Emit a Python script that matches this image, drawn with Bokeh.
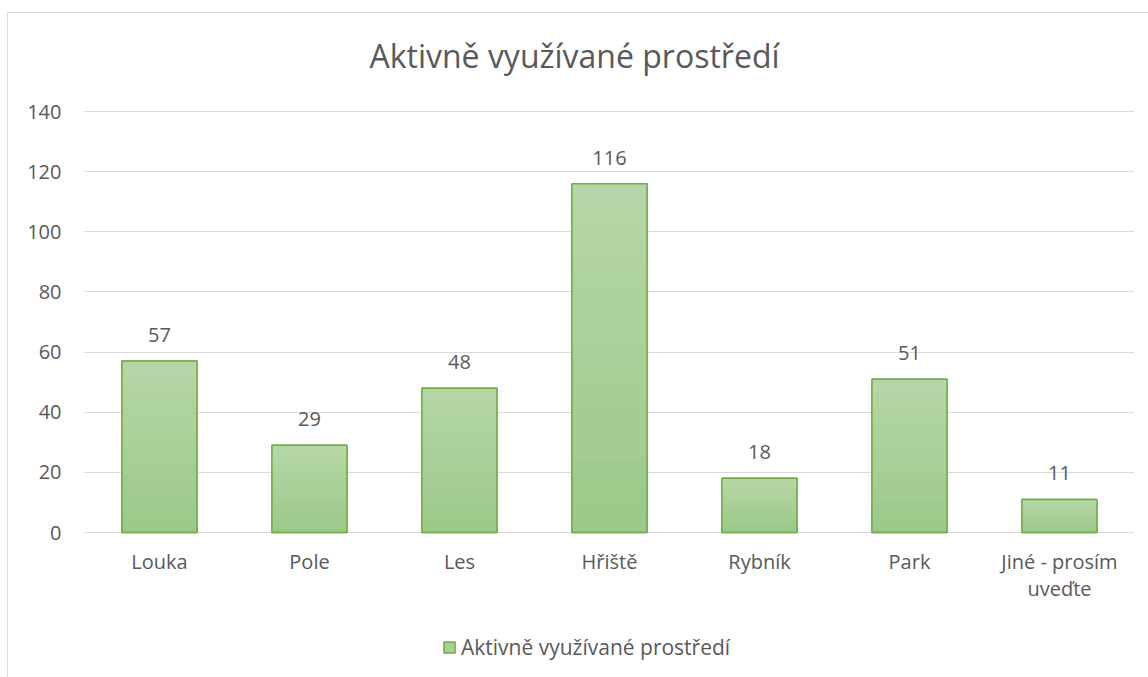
from bokeh.plotting import figure
from bokeh.models import (ColumnDataSource, FixedTicker, LabelSet, Label, Legend, LegendItem)
from bokeh.core.properties import value
from bokeh.embed import file_html
from bokeh.resources import INLINE

# ---- data ----
categories = ["Louka", "Pole", "Les", "Hřiště", "Rybník", "Park", "Jiné - prosím uveďte"]
category_labels = ["Louka", "Pole", "Les", "Hřiště", "Rybník", "Park", "Jiné - prosím\nuveďte"]
values = [57, 29, 48, 116, 18, 51, 11]
series_name = "Aktivně využívané prostředí"
chart_title = "Aktivně využívané prostředí"
y_ticks = [0, 20, 40, 60, 80, 100, 120, 140]

FONT = "Open Sans"
TXT = "#595959"
GRID = "#d9d9d9"
EDGE = "#70ad47"
TOP_C = (183, 215, 168)
BOT_C = (156, 201, 137)

# ---- layout (pixels) ----
FIG_X, FIG_Y = 7, 12
FIG_W, FIG_H = 1141, 665
FRAME_L, FRAME_R = 83, 1133
PX_TOP_TICK, PX_ZERO = 110, 531
ppu = (PX_ZERO - PX_TOP_TICK) / y_ticks[-1]
y_end = (PX_ZERO - FIG_Y) / ppu
y_start = -(FIG_Y + FIG_H - PX_ZERO) / ppu

p = figure(x_range=categories, y_range=(y_start, y_end), width=FIG_W, height=FIG_H,
           output_backend="svg", toolbar_location=None,
           min_border_left=FRAME_L - FIG_X, min_border_right=FIG_X + FIG_W - FRAME_R,
           min_border_top=0, min_border_bottom=0)
p.margin = (FIG_Y, 0, 0, FIG_X)
p.styles = {"border-top": "1px solid #d9d9d9", "border-left": "1px solid #d9d9d9"}
p.outline_line_color = None
p.background_fill_color = "white"
p.border_fill_color = "white"

src = ColumnDataSource(dict(cat=categories, val=values, lab=[str(v) for v in values],
                            tick=category_labels))

# base bars (legend glyph)
base = p.vbar(x="cat", top="val", width=0.5, source=src,
              fill_color="#a9d196", line_color=EDGE, line_width=1.5)

# gradient slices computed from the data values
N = 24
xs, bots, tops, cols = [], [], [], []
for c, v in zip(categories, values):
    for k in range(N):
        t = (k + 0.5) / N  # 0 bottom -> 1 top
        r = int(BOT_C[0] + (TOP_C[0] - BOT_C[0]) * t)
        g = int(BOT_C[1] + (TOP_C[1] - BOT_C[1]) * t)
        b = int(BOT_C[2] + (TOP_C[2] - BOT_C[2]) * t)
        xs.append(c)
        bots.append(v * k / N)
        tops.append(v * (k + 1) / N)
        cols.append("#%02x%02x%02x" % (r, g, b))
gsrc = ColumnDataSource(dict(x=xs, bottom=bots, top=tops, color=cols))
p.vbar(x="x", bottom="bottom", top="top", width=0.5, source=gsrc,
       fill_color="color", line_color="color", line_width=0.5)
p.vbar(x="cat", top="val", width=0.5, source=src,
       fill_alpha=0, line_color=EDGE, line_width=1.5)

# data labels
labels = LabelSet(x="cat", y="val", text="lab", source=src, text_align="center",
                  text_baseline="alphabetic", y_offset=19, text_font=value(FONT),
                  text_font_size=value("20px"), text_color=value(TXT))
p.add_layout(labels)

# category labels (drawn as text under the zero line)
p.text(x="cat", y=-15 / ppu, text="tick", source=src, text_align="center",
       text_baseline="top", text_font=value(FONT), text_font_size="20px",
       text_color=TXT, text_line_height=1.0)

# title
p.add_layout(Label(x=(573 - FRAME_L) / 150, y=(PX_ZERO - 54) / ppu, text=chart_title,
                   text_align="center", text_baseline="middle", text_font=FONT,
                   text_font_size="32px", text_color=TXT))

# axes
p.xaxis.visible = False
p.yaxis.ticker = FixedTicker(ticks=y_ticks)
p.yaxis.axis_line_color = None
p.yaxis.major_tick_line_color = None
p.yaxis.minor_tick_line_color = None
p.yaxis.major_label_standoff = 17
p.yaxis.major_label_text_font = FONT
p.yaxis.major_label_text_font_size = "20px"
p.yaxis.major_label_text_color = TXT

p.xgrid.grid_line_color = None
p.ygrid.ticker = FixedTicker(ticks=y_ticks)
p.ygrid.grid_line_color = GRID
p.ygrid.grid_line_width = 1

legend = Legend(items=[LegendItem(label=series_name, renderers=[base])],
                location=(358, 17), orientation="horizontal",
                glyph_width=14, glyph_height=14, label_standoff=5,
                label_text_font=FONT, label_text_font_size="21px",
                label_text_color=TXT, border_line_color=None,
                background_fill_alpha=0, padding=4, margin=0)
p.add_layout(legend, "center")

open("out.html", "w").write(file_html(p, INLINE))
